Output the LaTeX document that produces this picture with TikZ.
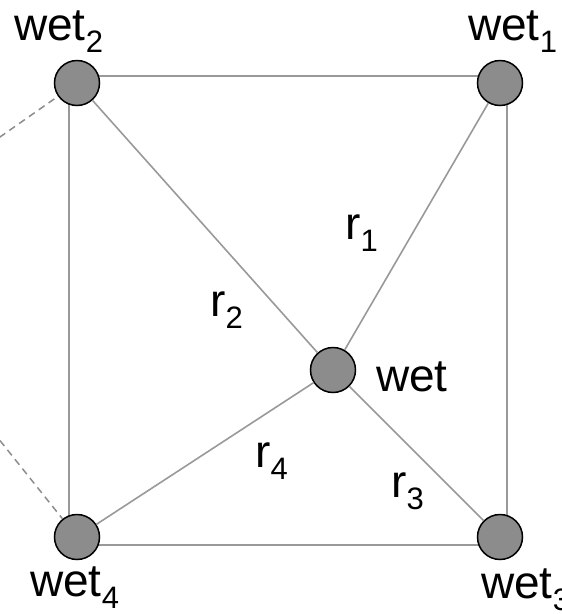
\documentclass[tikz,border=0pt]{standalone}
\usepackage{fontspec}
\setmainfont{Liberation Sans}
\usetikzlibrary{positioning}
\newcommand{\lsub}[1]{\raisebox{-0.28em}{\fontsize{31}{31}\selectfont #1}}

\begin{document}
\begin{tikzpicture}[x=1pt,y=-1pt,
    edge/.style={draw=black!40,line width=1.6pt},
    faredge/.style={draw=black!45,line width=1.5pt,dash pattern=on 7pt off 5pt},
    site/.style={circle,draw=black,line width=1.5pt,fill=black!45,minimum size=45pt,inner sep=0pt},
    lbl/.style={font=\fontsize{46}{50}\selectfont,inner sep=0pt}]
  \useasboundingbox (0,0) rectangle (562,614);
  \clip (0,0) rectangle (562,614);
  % corners of the square
  \coordinate (c2) at (69,76);
  \coordinate (c1) at (507,76);
  \coordinate (c3) at (507,545);
  \coordinate (c4) at (69,545);
  % far neighbours, off the picture
  \coordinate (f2) at (-30,158);
  \coordinate (f4) at (-30,403);
  \draw[edge] (c2) -- (c1) -- (c3) -- (c4) -- cycle;
  % sites
  \node[site] (w2) at (77,83) {};
  \node[site] (w1) at (500,83) {};
  \node[site] (w4) at (77,537) {};
  \node[site] (w3) at (500,537) {};
  \node[site] (w) at (333,370) {};
  \draw[edge] (w2) -- (w);
  \draw[edge] (w1) -- (w);
  \draw[edge] (w3) -- (w);
  \draw[edge] (w4) -- (w);
  \draw[faredge] (f2) -- (w2);
  \draw[faredge] (f4) -- (w4);
  % labels
  \node[lbl,anchor=base west] (l2) at (14,40) {wet\lsub{2}};
  \node[lbl,anchor=base west] (l1) at (468,40) {wet\lsub{1}};
  \node[lbl,anchor=base west] (l4) at (30,596) {wet\lsub{4}};
  \node[lbl,anchor=base west] (l3) at (481,598) {wet\lsub{3}};
  \node[lbl,anchor=base west] (lw) at (376,391) {wet};
  \node[lbl,anchor=base west] (r1) at (345,239) {r\lsub{1}};
  \node[lbl,anchor=base west] (r2) at (210,316) {r\lsub{2}};
  \node[lbl,anchor=base west] (r4) at (255,467) {r\lsub{4}};
  \node[lbl,anchor=base west] (r3) at (391,497) {r\lsub{3}};
\end{tikzpicture}
\end{document}
